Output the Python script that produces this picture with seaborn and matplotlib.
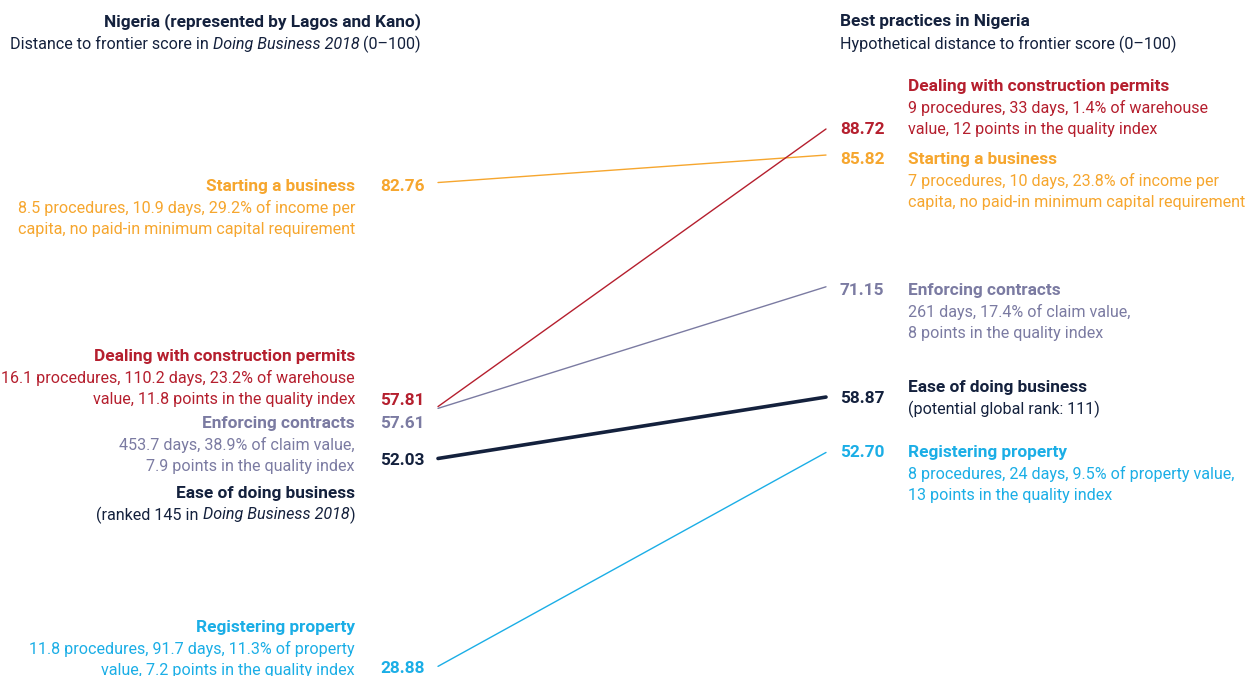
import matplotlib
matplotlib.use("Agg")
import matplotlib.pyplot as plt
import seaborn as sns
import pandas as pd

# ---------------- data ----------------
indicators = ["Starting a business", "Dealing with construction permits",
              "Enforcing contracts", "Ease of doing business", "Registering property"]
score_2018 = [82.76, 57.81, 57.61, 52.03, 28.88]
score_best = [85.82, 88.72, 71.15, 58.87, 52.70]
# detail lines; each line is a list of (text, italic) segments
left_details = [
    [[("8.5 procedures, 10.9 days, 29.2% of income per", False)],
     [("capita, no paid-in minimum capital requirement", False)]],
    [[("16.1 procedures, 110.2 days, 23.2% of warehouse", False)],
     [("value, 11.8 points in the quality index", False)]],
    [[("453.7 days, 38.9% of claim value,", False)],
     [("7.9 points in the quality index", False)]],
    [[("(ranked 145 in ", False), ("Doing Business 2018", True), (")", False)]],
    [[("11.8 procedures, 91.7 days, 11.3% of property", False)],
     [("value, 7.2 points in the quality index", False)]],
]
right_details = [
    [[("7 procedures, 10 days, 23.8% of income per", False)],
     [("capita, no paid-in minimum capital requirement", False)]],
    [[("9 procedures, 33 days, 1.4% of warehouse", False)],
     [("value, 12 points in the quality index", False)]],
    [[("261 days, 17.4% of claim value,", False)],
     [("8 points in the quality index", False)]],
    [[("(potential global rank: 111)", False)]],
    [[("8 procedures, 24 days, 9.5% of property value,", False)],
     [("13 points in the quality index", False)]],
]
left_header_title = "Nigeria (represented by Lagos and Kano)"
left_header_sub = [("Distance to frontier score in ", False),
                   ("Doing Business 2018", True), (" (0–100)", False)]
right_header_title = "Best practices in Nigeria"
right_header_sub = [("Hypothetical distance to frontier score (0–100)", False)]

# ---------------- style ----------------
colors = ["#F6A62E", "#B51F2E", "#7B7BA2", "#14213D", "#1BAEE6"]
widths = [1.0, 1.0, 1.0, 2.6, 1.0]

sns.set_theme(style="white")
FAM = ["Roboto", "DejaVu Sans"]
plt.rcParams["font.family"] = FAM

W, H = 1247, 676
fig = plt.figure(figsize=(W / 100, H / 100), dpi=100)
ax = fig.add_axes([0, 0, 1, 1])
# pixel -> score mapping: y_px = 129 + (88.72 - v) * 8.98
ax.set_xlim(0, W)
ax.set_ylim(88.72 - (H - 129) / 8.98, 88.72 + 129 / 8.98)
ax.axis("off")

XL, XR = 438, 826
rows = []
for name, a, b in zip(indicators, score_2018, score_best):
    rows.append({"indicator": name, "x": XL, "score": a})
    rows.append({"indicator": name, "x": XR, "score": b})
df = pd.DataFrame(rows)
for name, c, lw in zip(indicators, colors, widths):
    sns.lineplot(data=df[df.indicator == name], x="x", y="score", color=c,
                 linewidth=lw, ax=ax, legend=False)

FS = 11.6
FSB = 12.4
LH = 21.5
DY = 1.5
renderer = fig.canvas.get_renderer()


def seg_text(x, y, segs, color, ha, bold=False):
    """Draw a line made of (text, italic) segments, aligned left or right at x (pixels)."""
    fs = FSB if bold else FS
    arts = []
    widths_px = []
    for s, it in segs:
        kw = dict(fontsize=fs, fontweight="bold" if bold else "normal",
                  fontstyle="italic" if it else "normal", family=FAM)
        t = fig.text(0, 1 - (y + DY) / H, s, color=color, ha="left", va="center", **kw)
        arts.append(t)
        probe = fig.text(0, 0, "|" + s + "|", **kw)
        bar = fig.text(0, 0, "||", **kw)
        wpx = probe.get_window_extent(renderer).width - bar.get_window_extent(renderer).width
        probe.remove()
        bar.remove()
        widths_px.append(wpx)
    total = sum(widths_px)
    start = x - total if ha == "right" else x
    for t, wpx in zip(arts, widths_px):
        t.set_x(start / W)
        start += wpx


def txt(x, y, s, color, ha, bold=False):
    seg_text(x, y, [(s, False)], color, ha, bold)


# headers
txt(421, 20, left_header_title, "#14213D", "right", bold=True)
seg_text(421, 43, left_header_sub, "#14213D", "right")
txt(840, 20, right_header_title, "#14213D", "left", bold=True)
seg_text(840, 43, right_header_sub, "#14213D", "left")

# layout (pixel y positions of label blocks)
left_title_y = [185, 355, 422, 492, 626]
left_value_y = [185, 399, 422, 459, 667]
right_title_y = [158, 85, 289, 386, 451]
right_value_y = [158, 128, 289, 397, 451]

for i, name in enumerate(indicators):
    c = colors[i]
    txt(355, left_title_y[i], name, c, "right", bold=True)
    for k, line in enumerate(left_details[i]):
        seg_text(355, left_title_y[i] + (k + 1) * LH, line, c, "right")
    txt(425, left_value_y[i], f"{score_2018[i]:.2f}", c, "right", bold=True)

    txt(908, right_title_y[i], name, c, "left", bold=True)
    for k, line in enumerate(right_details[i]):
        seg_text(908, right_title_y[i] + (k + 1) * LH, line, c, "left")
    txt(840, right_value_y[i], f"{score_best[i]:.2f}", c, "left", bold=True)

fig.savefig("out.png", dpi=100, facecolor="white")
